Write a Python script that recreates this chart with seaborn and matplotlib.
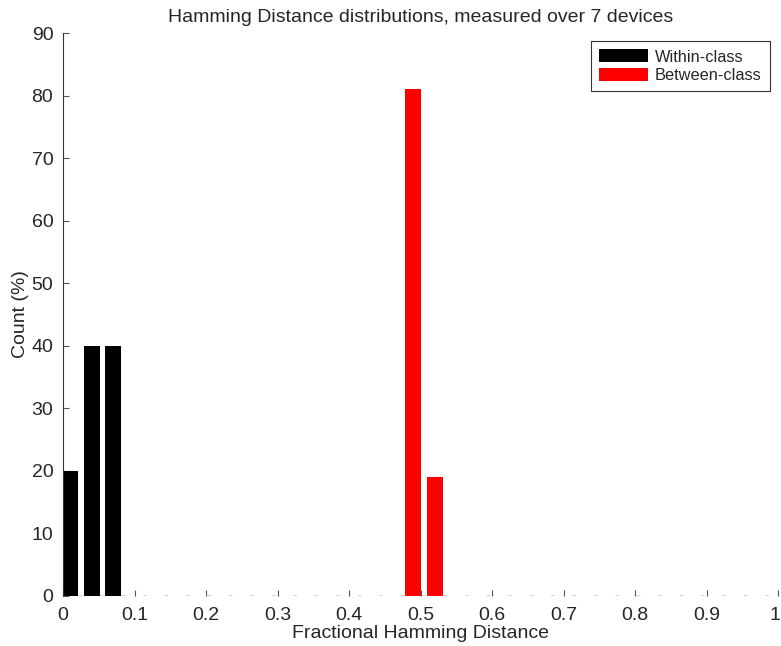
import matplotlib
matplotlib.use("Agg")
import matplotlib.pyplot as plt
import matplotlib.transforms as mtransforms
import pandas as pd
import seaborn as sns

# histogram bins (fractional HD) and counts in percent
within_bins = [0.01, 0.04, 0.07]
within_pct = [20, 40, 40]
between_bins = [0.49, 0.52]
between_pct = [81, 19]

df = pd.concat([
    pd.DataFrame({"hd": within_bins, "pct": within_pct, "cls": "Within-class"}),
    pd.DataFrame({"hd": between_bins, "pct": between_pct, "cls": "Between-class"}),
])

sns.set_style("white")
plt.rcParams["font.family"] = ["Liberation Sans", "DejaVu Sans"]
plt.rcParams["lines.scale_dashes"] = False

fig = plt.figure(figsize=(7.81, 6.46), dpi=100)
ax = fig.add_axes([63 / 781, 50 / 646, 715 / 781, 563 / 646])

sns.barplot(data=df, x="hd", y="pct", hue="cls", native_scale=True, dodge=False,
            palette={"Within-class": "black", "Between-class": "red"}, saturation=1,
            width=0.75, errorbar=None, linewidth=0, ax=ax)

# matlab-ish broken baseline
ax.axhline(0, color="#222222", lw=1.0, linestyle=(4.3, (2.4, 13.05)), zorder=0)

ax.set_xlim(0, 1)
ax.set_ylim(0, 90)
ax.set_xticks([i / 10 for i in range(11)])
ax.set_xticklabels(["0", "0.1", "0.2", "0.3", "0.4", "0.5", "0.6", "0.7", "0.8", "0.9", "1"])
ax.set_yticks(range(0, 91, 10))
ax.tick_params(bottom=True, left=True, direction="in", length=4, width=0.8,
               color="#555555", labelsize=14)
ax.tick_params(axis="x", pad=8)
ax.tick_params(axis="y", pad=7)

# last label sits right on the figure edge, nudge it in a little
last = ax.get_xticklabels()[-1]
last.set_transform(last.get_transform() + mtransforms.ScaledTranslation(-3 / 100, 0, fig.dpi_scale_trans))

for side in ["top", "right", "bottom"]:
    ax.spines[side].set_visible(False)
ax.spines["left"].set_color("#333333")
ax.spines["left"].set_linewidth(0.8)

ax.set_title("Hamming Distance distributions, measured over 7 devices", fontsize=14, pad=8)
ax.set_xlabel("Fractional Hamming Distance", fontsize=14, labelpad=1)
ax.set_ylabel("Count (%)", fontsize=14, labelpad=2)

ax.legend(title=None, loc="upper right", fontsize=11.8, frameon=True, fancybox=False,
          edgecolor="#333333", framealpha=1, handlelength=3.0, handleheight=0.85,
          borderaxespad=0.5, borderpad=0.5, labelspacing=0.2, handletextpad=0.4)
ax.get_legend().get_frame().set_linewidth(0.8)

fig.savefig("out.png", dpi=100)
